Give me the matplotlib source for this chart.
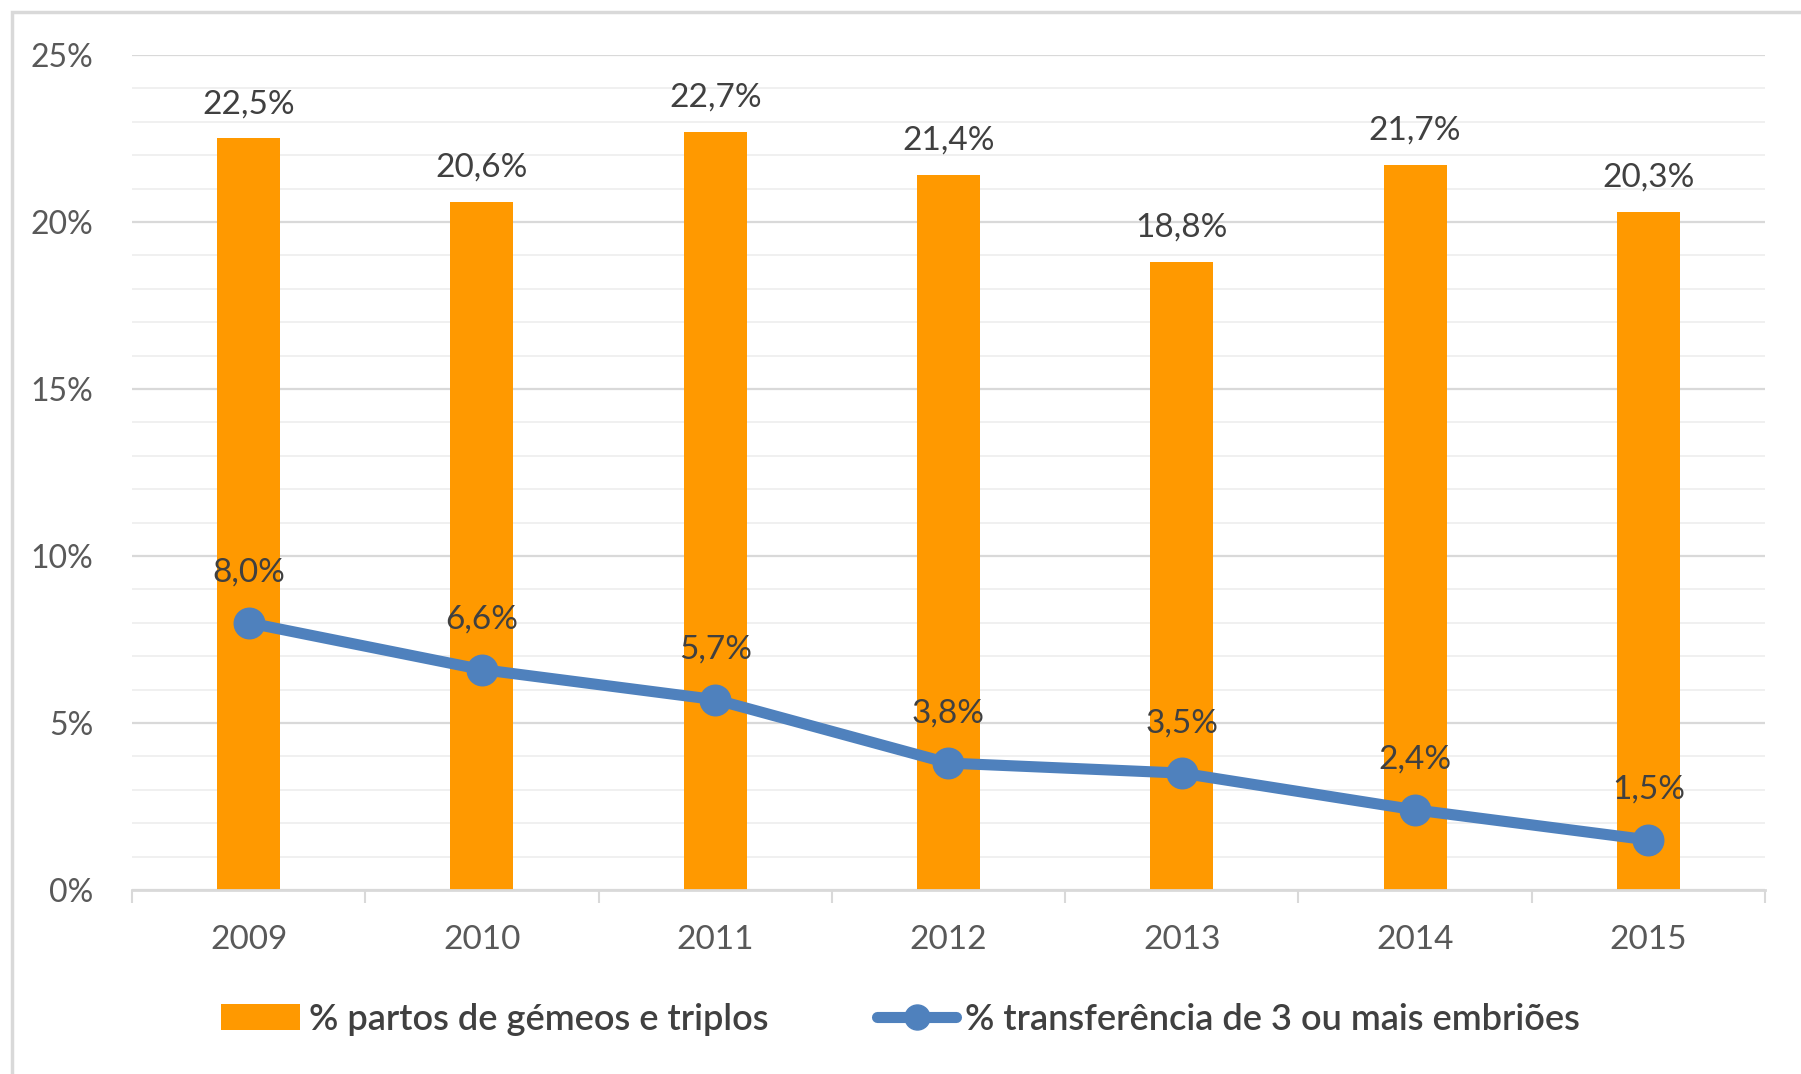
import numpy as np
import matplotlib
matplotlib.use("Agg")
import matplotlib.pyplot as plt
from matplotlib.patches import Rectangle

# data
years = ["2009", "2010", "2011", "2012", "2013", "2014", "2015"]
partos = [22.5, 20.6, 22.7, 21.4, 18.8, 21.7, 20.3]
transfer = [8.0, 6.6, 5.7, 3.8, 3.5, 2.4, 1.5]
yticks = [0, 5, 10, 15, 20, 25]
label_bar = "% partos de gémeos e triplos"
label_line = "% transferência de 3 ou mais embriões"

ORANGE = "#FF9900"
BLUE = "#4F81BD"
plt.rcParams['font.family'] = ['Lato', 'DejaVu Sans']

fig = plt.figure(figsize=(18.01, 10.74), dpi=100)
ax = fig.add_axes([0.0733, 0.1713, 0.9067, 0.7775])

# outer chart border
fig.patches.append(Rectangle((12 / 1801, -0.1), 1.2, 1 - 12 / 1074 + 0.1,
                             transform=fig.transFigure, fill=False,
                             edgecolor="#D9D9D9", linewidth=2.5, zorder=0))

x = np.arange(len(years))
bars = ax.bar(x, partos, width=0.27, color=ORANGE, zorder=2, label=label_bar)
line, = ax.plot(x, transfer, color=BLUE, linewidth=8, marker="o", markersize=22,
                solid_capstyle="round", zorder=3, label=label_line)

for xi, v in zip(x, partos):
    ax.annotate(("%.1f%%" % v).replace(".", ","), (xi, v), xytext=(0, 14),
                textcoords="offset points", ha="center", va="bottom",
                fontsize=24, color="#404040")
for xi, v in zip(x, transfer):
    ax.annotate(("%.1f%%" % v).replace(".", ","), (xi, v), xytext=(0, 36),
                textcoords="offset points", ha="center", va="center",
                fontsize=24, color="#404040", zorder=4)

ax.set_xlim(-0.5, len(years) - 0.5)
ax.set_ylim(0, 25)
ax.set_yticks(yticks)
ax.set_yticklabels(["%d%%" % t for t in yticks])
ax.set_yticks(np.arange(0, 26, 1), minor=True)
ax.yaxis.grid(True, which="major", color="#D9D9D9", linewidth=1.6, zorder=0)
ax.yaxis.grid(True, which="minor", color="#F0F0F0", linewidth=1.4, zorder=0)
ax.set_axisbelow(True)
ax.tick_params(axis="y", which="both", length=0, labelsize=23,
               labelcolor="#595959", pad=28)

ax.set_xticks(np.arange(-0.5, len(years), 1))
ax.set_xticklabels([])
ax.set_xticks(x, minor=True)
ax.set_xticklabels(years, minor=True)
ax.tick_params(axis="x", which="major", length=9, width=1.5, color="#D9D9D9")
ax.tick_params(axis="x", which="minor", length=0, labelsize=24,
               labelcolor="#595959", pad=25)

for s in ["top", "right", "left"]:
    ax.spines[s].set_visible(False)
ax.spines["bottom"].set_color("#D9D9D9")
ax.spines["bottom"].set_linewidth(2)

leg = fig.legend([bars, line], [label_bar, label_line], loc="center",
                 bbox_to_anchor=(0.5, 0.051), ncol=2, frameon=False,
                 prop={"size": 26, "weight": "semibold"}, labelcolor="#404040",
                 handlelength=2.2, handletextpad=0.25, columnspacing=3.0,
                 numpoints=1)
leg.legend_handles[1].set_markersize(18)

fig.savefig("out.png", dpi=100)
